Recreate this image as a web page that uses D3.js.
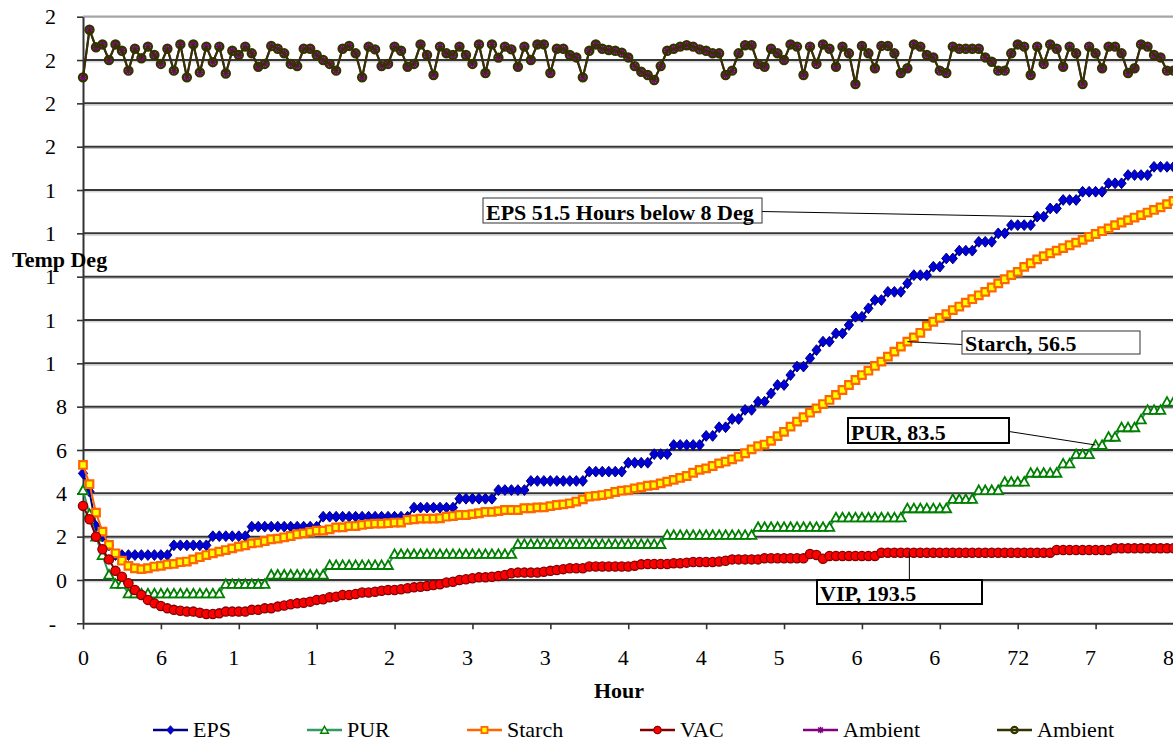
<!DOCTYPE html>
<html>
<head>
<meta charset="utf-8">
<script src="https://cdn.jsdelivr.net/npm/d3@7/dist/d3.min.js"></script>
<style>
  html, body { margin: 0; padding: 0; background: #ffffff; }
  svg { display: block; }
  svg text { font-family: "Liberation Serif", "Times New Roman", serif; fill: #000; }
</style>
</head>
<body>
<svg id="chart" width="1173" height="742"></svg>
<script>
// ---- Data: readings every half hour, 0 to 84 h ----
const readingCount = 169;

const xTickValues = [0, 6, 12, 18, 24, 30, 36, 42, 48, 54, 60, 66, 72, 78, 84];
const xTickLabels = ["0", "6", "1", "1", "2", "3", "3", "4", "4", "5", "6", "6", "72", "7", "8"];

const yTickValues = [-2, 0, 2, 4, 6, 8, 10, 12, 14, 16, 18, 20, 22, 24, 26];
const yTickLabels = ["-", "0", "2", "4", "6", "8", "1", "1", "1", "1", "1", "2", "2", "2", "2"];

const seriesNames = ["EPS", "PUR", "Starch", "VAC", "Ambient", "Ambient"];

const eps = [
  4.92, 4.08, 2.49, 2.0, 1.6, 1.15, 1.15, 1.15, 1.15, 1.15, 1.15, 1.15, 1.15, 1.15,
  1.6, 1.6, 1.6, 1.6, 1.6, 1.6, 2.02, 2.02, 2.02, 2.02, 2.02, 2.02,
  2.46, 2.46, 2.46, 2.46, 2.46, 2.46, 2.46, 2.46, 2.46, 2.46, 2.46,
  2.92, 2.92, 2.92, 2.92, 2.92, 2.92, 2.92, 2.92, 2.92, 2.92, 2.92, 2.92, 2.92, 2.92,
  3.34, 3.34, 3.34, 3.34, 3.34, 3.34, 3.34, 3.75, 3.75, 3.75, 3.75, 3.75, 3.75,
  4.15, 4.15, 4.15, 4.15, 4.15, 4.57, 4.57, 4.57, 4.57, 4.57, 4.57, 4.57, 4.57, 4.57,
  5.0, 5.0, 5.0, 5.0, 5.0, 5.0, 5.41, 5.41, 5.41, 5.41, 5.81, 5.81, 5.81,
  6.23, 6.23, 6.23, 6.23, 6.23, 6.65, 6.65, 7.05, 7.05, 7.43, 7.43, 7.85, 7.85,
  8.23, 8.23, 8.61, 9.0, 9.0, 9.46, 9.85, 9.85, 10.23, 10.61, 11.0, 11.0, 11.38, 11.38,
  11.77, 12.15, 12.15, 12.54, 12.92, 12.92, 13.3, 13.3, 13.3, 13.69, 14.07, 14.07, 14.07,
  14.46, 14.46, 14.84, 14.84, 15.2, 15.2, 15.2, 15.61, 15.61, 15.61, 16.0, 16.0,
  16.38, 16.38, 16.38, 16.38, 16.77, 16.77, 17.15, 17.15, 17.54, 17.54, 17.54,
  17.92, 17.92, 17.92, 17.92, 18.31, 18.31, 18.31, 18.69, 18.69, 18.69, 18.69,
  19.07, 19.07, 19.07, 19.07
];

const pur = [
  4.15, 3.05, 2.0, 1.15, 0.25, -0.18, -0.18,
  -0.62, -0.62, -0.62, -0.62, -0.62, -0.62, -0.62, -0.62, -0.62, -0.62, -0.62, -0.62, -0.62, -0.62, -0.62,
  -0.18, -0.18, -0.18, -0.18, -0.18, -0.18, -0.18,
  0.25, 0.25, 0.25, 0.25, 0.25, 0.25, 0.25, 0.25, 0.25,
  0.69, 0.69, 0.69, 0.69, 0.69, 0.69, 0.69, 0.69, 0.69, 0.69,
  1.2, 1.2, 1.2, 1.2, 1.2, 1.2, 1.2, 1.2, 1.2, 1.2, 1.2, 1.2, 1.2, 1.2, 1.2, 1.2, 1.2, 1.2, 1.2,
  1.66, 1.66, 1.66, 1.66, 1.66, 1.66, 1.66, 1.66, 1.66, 1.66, 1.66, 1.66, 1.66, 1.66, 1.66, 1.66,
  1.66, 1.66, 1.66, 1.66, 1.66, 1.66, 1.66,
  2.08, 2.08, 2.08, 2.08, 2.08, 2.08, 2.08, 2.08, 2.08, 2.08, 2.08, 2.08, 2.08, 2.08,
  2.45, 2.45, 2.45, 2.45, 2.45, 2.45, 2.45, 2.45, 2.45, 2.45, 2.45, 2.45,
  2.89, 2.89, 2.89, 2.89, 2.89, 2.89, 2.89, 2.89, 2.89, 2.89, 2.89,
  3.31, 3.31, 3.31, 3.31, 3.31, 3.31, 3.31, 3.74, 3.74, 3.74, 3.74,
  4.15, 4.15, 4.15, 4.15, 4.54, 4.54, 4.54, 4.54, 4.95, 4.95, 4.95, 4.95, 4.95,
  5.38, 5.38, 5.81, 5.81, 5.81, 6.23, 6.23, 6.61, 6.61, 7.05, 7.05, 7.05, 7.41,
  7.85, 7.85, 7.85, 8.23, 8.23
];

const starch = [
  5.31, 4.42, 3.11, 2.23, 1.62, 1.23, 0.89, 0.65, 0.54, 0.5, 0.54, 0.62, 0.65, 0.72,
  0.74, 0.82, 0.85, 0.95, 1.05, 1.15, 1.23, 1.31, 1.38, 1.46, 1.54, 1.6, 1.69, 1.72,
  1.8, 1.88, 1.91, 1.97, 2.03, 2.11, 2.15, 2.22, 2.28, 2.28, 2.34, 2.43, 2.43, 2.49,
  2.49, 2.54, 2.58, 2.6, 2.6, 2.62, 2.65, 2.65, 2.77, 2.8, 2.83, 2.83, 2.83, 2.85,
  2.92, 2.95, 3.0, 3.0, 3.04, 3.08, 3.14, 3.14, 3.18, 3.23, 3.23, 3.23, 3.31, 3.31,
  3.35, 3.35, 3.41, 3.46, 3.49, 3.54, 3.62, 3.72, 3.85, 3.88, 3.92, 3.97, 4.06, 4.12,
  4.15, 4.23, 4.28, 4.35, 4.38, 4.46, 4.54, 4.62, 4.71, 4.8, 4.95, 5.08, 5.15, 5.26,
  5.38, 5.46, 5.57, 5.69, 5.85, 6.03, 6.18, 6.25, 6.42, 6.64, 6.84, 7.08, 7.31, 7.51,
  7.72, 7.92, 8.12, 8.31, 8.54, 8.77, 9.0, 9.23, 9.46, 9.66, 9.88, 10.08, 10.31, 10.54,
  10.77, 11.0, 11.2, 11.41, 11.73, 11.92, 12.1, 12.27, 12.46, 12.62, 12.8, 12.96, 13.14,
  13.3, 13.5, 13.69, 13.88, 14.07, 14.22, 14.45, 14.62, 14.8, 14.95, 15.08, 15.2, 15.32,
  15.45, 15.57, 15.7, 15.84, 15.97, 16.1, 16.23, 16.38, 16.5, 16.61, 16.73, 16.84,
  16.96, 17.08, 17.2, 17.35, 17.5
];

const vac = [
  3.42, 2.8, 2.0, 1.42, 0.95, 0.42, 0.15, -0.15, -0.46, -0.69, -0.92, -1.08, -1.2, -1.31,
  -1.38, -1.42, -1.46, -1.46, -1.51, -1.57, -1.57, -1.54, -1.46, -1.46, -1.46, -1.46,
  -1.38, -1.38, -1.31, -1.31, -1.23, -1.18, -1.12, -1.08, -1.05, -1.0, -0.92, -0.89,
  -0.8, -0.77, -0.69, -0.69, -0.65, -0.58, -0.58, -0.54, -0.5, -0.46, -0.46, -0.43,
  -0.38, -0.34, -0.31, -0.28, -0.23, -0.2, -0.12, -0.08, 0.0, 0.03, 0.08, 0.12, 0.12,
  0.15, 0.18, 0.23, 0.31, 0.34, 0.34, 0.34, 0.34, 0.38, 0.42, 0.46, 0.5, 0.54, 0.54,
  0.54, 0.62, 0.62, 0.62, 0.62, 0.62, 0.62, 0.62, 0.66, 0.72, 0.74, 0.74, 0.74, 0.74,
  0.77, 0.77, 0.8, 0.83, 0.83, 0.83, 0.83, 0.85, 0.89, 0.95, 0.95, 0.95, 0.95, 0.95,
  1.0, 1.0, 1.0, 1.0, 1.0, 1.0, 1.0, 1.2, 1.15, 0.98, 1.11,
  1.11, 1.11, 1.11, 1.11, 1.11, 1.11, 1.11,
  1.26, 1.26, 1.26, 1.26, 1.26, 1.26, 1.26, 1.26, 1.26, 1.26, 1.26, 1.26, 1.26, 1.26,
  1.26, 1.26, 1.26, 1.26, 1.26, 1.26, 1.26, 1.26, 1.26, 1.26, 1.26, 1.26, 1.26,
  1.38, 1.38, 1.38, 1.38, 1.38, 1.38, 1.38, 1.38, 1.38,
  1.46, 1.46, 1.46, 1.46, 1.46, 1.46, 1.46, 1.46, 1.46, 1.46
];

const ambient = [
  23.2, 25.4, 24.59, 24.72, 24.0, 24.72, 24.43, 23.51, 24.52, 24.08, 24.62, 24.23, 23.82,
  24.52, 23.51, 24.72, 23.2, 24.72, 23.43, 24.62, 23.9, 24.62, 23.38, 24.43, 24.23, 24.62,
  24.31, 23.69, 23.82, 24.65, 24.52, 24.31, 23.82, 23.72, 24.52, 24.52, 24.23, 24.0, 23.82,
  23.51, 24.52, 24.65, 24.31, 23.2, 24.62, 24.49, 23.72, 23.82, 24.62, 24.43, 23.69, 23.82,
  24.72, 24.23, 23.31, 24.62, 24.31, 24.23, 24.62, 24.23, 23.82, 24.72, 23.4, 24.72, 24.11,
  24.62, 24.49, 23.69, 24.62, 24.0, 24.72, 24.72, 23.4, 24.52, 24.52, 24.23, 24.12, 23.2,
  24.43, 24.72, 24.52, 24.46, 24.43, 24.34, 24.12, 23.72, 23.46, 23.31, 23.08, 23.72, 24.43,
  24.52, 24.62, 24.68, 24.62, 24.49, 24.43, 24.31, 24.31, 23.31, 23.51, 24.31, 24.68, 24.68,
  23.82, 23.69, 24.52, 24.31, 24.0, 24.72, 24.62, 23.31, 24.62, 23.82, 24.72, 24.52, 23.69,
  24.62, 24.31, 22.89, 24.65, 24.31, 23.62, 24.65, 24.65, 24.31, 23.4, 23.62, 24.72, 24.62,
  24.23, 24.12, 23.51, 23.4, 24.62, 24.52, 24.52, 24.52, 24.52, 24.12, 23.92, 23.51, 23.51,
  24.31, 24.72, 24.62, 23.31, 24.62, 23.82, 24.72, 24.52, 23.69, 24.62, 24.31, 22.89, 24.62,
  24.31, 23.62, 24.62, 24.62, 24.31, 23.4, 23.62, 24.72, 24.62, 24.23, 24.12, 23.51, 23.51
];

// Callout texts and the reading each leader line points at
const calloutTexts = ["EPS 51.5 Hours below 8 Deg", "Starch, 56.5", "PUR, 83.5", "VIP, 193.5"];
const calloutSeries = ["EPS", "Starch", "PUR", "VAC"];
const calloutReading = [147, 127, 156, 127];

// ---- Layout ----
const svg = d3.select("#chart");
const serif = "'Liberation Serif', 'Times New Roman', serif";
const plotLeft = 83, plotRight = 1173.5, plotTop = 16.7, plotBottom = 623.3;

const hours = d3.range(readingCount).map(i => i / 2);
const x = d3.scaleLinear().domain([0, 84]).range([plotLeft, plotRight]);
const y = d3.scaleLinear().domain([-2, 26]).range([plotBottom, plotTop]);

// gridlines
const grid = svg.append("g");
yTickValues.filter(v => v > -2).forEach(v => {
  const top = v === 26;
  grid.append("line")
    .attr("x1", plotLeft).attr("x2", 1173)
    .attr("y1", y(v)).attr("y2", y(v))
    .attr("stroke", top ? "#a6a6a6" : "#363636")
    .attr("stroke-width", top ? 2.2 : 2);
  if (!top) {
    grid.append("line")
      .attr("x1", plotLeft).attr("x2", 1173)
      .attr("y1", y(v) + 1.8).attr("y2", y(v) + 1.8)
      .attr("stroke", "#c4c4c4").attr("stroke-width", 1);
  }
});

// axes
const digitEm = 0.5;
const yAxis = d3.axisLeft(y)
  .tickValues(yTickValues)
  .tickFormat((d, i) => yTickLabels[i])
  .tickSize(6).tickSizeOuter(0).tickPadding(10);
const gy = svg.append("g").attr("transform", `translate(${plotLeft},0)`).call(yAxis);
gy.selectAll("text")
  .attr("dx", (d, i) => -(String(d).length - yTickLabels[i].length) * digitEm + "em")
  .attr("dy", "0.33em");

const xAxis = d3.axisBottom(x)
  .tickValues(xTickValues)
  .tickFormat((d, i) => xTickLabels[i])
  .tickSize(6).tickSizeOuter(0).tickPadding(20);
const gx = svg.append("g").attr("transform", `translate(0,${plotBottom})`).call(xAxis);
gx.selectAll("text")
  .attr("dx", (d, i) => -(String(d).length - xTickLabels[i].length) * digitEm / 2 + "em");

[gx, gy].forEach(g => {
  g.attr("font-family", serif).attr("font-size", 22);
  g.selectAll("text").style("font-family", serif).attr("font-size", 22).attr("fill", "#000");
  g.selectAll("line").attr("stroke", "#333").attr("stroke-width", 1.6);
  g.select(".domain").attr("stroke", "#333").attr("stroke-width", 2);
});

// axis titles
svg.append("text").attr("x", 12).attr("y", 267).style("font-family", serif)
  .attr("font-size", 22).attr("font-weight", "bold").text("Temp Deg");
svg.append("text").attr("x", 619).attr("y", 698).attr("text-anchor", "middle").style("font-family", serif)
  .attr("font-size", 22).attr("font-weight", "bold").text("Hour");

// ---- Marker shapes ----
const shapes = {
  diamond: "M0,-5.4L4.6,0L0,5.4L-4.6,0Z",
  triangle: "M0,-4.6L4.8,4L-4.8,4Z",
  square: "M-3.8,-3.8H3.8V3.8H-3.8Z",
  asterisk: "M-4,0H4M0,-4V4M-3,-3L3,3M-3,3L3,-3"
};

const seriesStyle = {
  "EPS":     { values: eps,     line: "#000080", lw: 2,   shape: "diamond",  fill: "#0000d8", stroke: "#000080", sw: 1 },
  "PUR":     { values: pur,     line: "#339966", lw: 2,   shape: "triangle", fill: "#ffffff", stroke: "#008000", sw: 1.8 },
  "Starch":  { values: starch,  line: "#ff6600", lw: 2,   shape: "square",   fill: "#ffff00", stroke: "#ff6600", sw: 2.2 },
  "VAC":     { values: vac,     line: "#800000", lw: 2,   shape: "circle",   fill: "#ff0000", stroke: "#800000", sw: 1.3, r: 4.6 },
  "AmbientA":{ values: ambient, line: "#800080", lw: 2,   shape: "asterisk", fill: "none",    stroke: "#800080", sw: 1.8 },
  "AmbientB":{ values: ambient, line: "#333300", lw: 2.2, shape: "circle",   fill: "none",    stroke: "#333300", sw: 2.4, r: 4 }
};
const drawOrder = ["EPS", "PUR", "Starch", "VAC", "AmbientA", "AmbientB"];

function drawMarker(g, st, cx, cy, scale) {
  const k = scale || 1;
  if (st.shape === "circle") {
    g.append("circle").attr("cx", cx).attr("cy", cy).attr("r", st.r * k)
      .attr("fill", st.fill).attr("stroke", st.stroke).attr("stroke-width", st.sw * Math.min(1, k + 0.1));
  } else {
    g.append("path").attr("d", shapes[st.shape])
      .attr("transform", `translate(${cx},${cy}) scale(${k})`)
      .attr("fill", st.fill).attr("stroke", st.stroke).attr("stroke-width", st.sw);
  }
}

const lineGen = d3.line().x((d, i) => x(hours[i])).y(d => y(d));
const plot = svg.append("g");
drawOrder.forEach(key => {
  const st = seriesStyle[key];
  const g = plot.append("g");
  g.append("path").datum(st.values).attr("d", lineGen)
    .attr("fill", "none").attr("stroke", st.line).attr("stroke-width", st.lw)
    .attr("stroke-linejoin", "round");
  st.values.forEach((v, i) => drawMarker(g, st, x(hours[i]), y(v)));
});

// ---- Callouts ----
const seriesByName = { EPS: eps, Starch: starch, PUR: pur, VAC: vac };
const boxes = [
  { x: 483, y: 198, w: 279, h: 25, sw: 1, stroke: "#333", from: "right" },
  { x: 962, y: 331, w: 178, h: 23, sw: 1, stroke: "#333", from: "left" },
  { x: 848, y: 418, w: 161, h: 25, sw: 2, stroke: "#000", from: "right" },
  { x: 817, y: 580, w: 165, h: 24, sw: 2, stroke: "#000", from: "top" }
];
const callouts = svg.append("g");
calloutTexts.forEach((t, k) => {
  const b = boxes[k];
  const idx = calloutReading[k];
  const px = x(hours[idx]);
  const py = y(seriesByName[calloutSeries[k]][idx]);
  let sx, sy;
  if (b.from === "right") { sx = b.x + b.w; sy = b.y + b.h / 2 + 1; }
  else if (b.from === "left") { sx = b.x; sy = b.y + b.h / 2 + 2; }
  else { sx = px + 2; sy = b.y; }
  callouts.append("line").attr("x1", sx).attr("y1", sy).attr("x2", b.from === "top" ? sx : px).attr("y2", py)
    .attr("stroke", "#000").attr("stroke-width", 1);
  callouts.append("rect").attr("x", b.x).attr("y", b.y).attr("width", b.w).attr("height", b.h)
    .attr("fill", "#fff").attr("stroke", b.stroke).attr("stroke-width", b.sw);
  callouts.append("text").attr("x", b.x + 3).attr("y", b.y + b.h - 3).style("font-family", serif)
    .attr("font-size", 22).attr("font-weight", "bold").text(t);
});

// ---- Legend ----
const legendKeys = ["EPS", "PUR", "Starch", "VAC", "AmbientA", "AmbientB"];
const legendX = [153, 307, 467, 640, 803, 997];
const legend = svg.append("g");
legendKeys.forEach((key, i) => {
  const st = seriesStyle[key];
  const lx = legendX[i], ly = 730;
  legend.append("line").attr("x1", lx).attr("x2", lx + 35).attr("y1", ly).attr("y2", ly)
    .attr("stroke", st.line).attr("stroke-width", 2.6);
  drawMarker(legend, st, lx + 17.5, ly, 0.8);
  legend.append("text").attr("x", lx + 40).attr("y", 737).style("font-family", serif)
    .attr("font-size", 22).text(seriesNames[i]);
});
</script>
</body>
</html>
